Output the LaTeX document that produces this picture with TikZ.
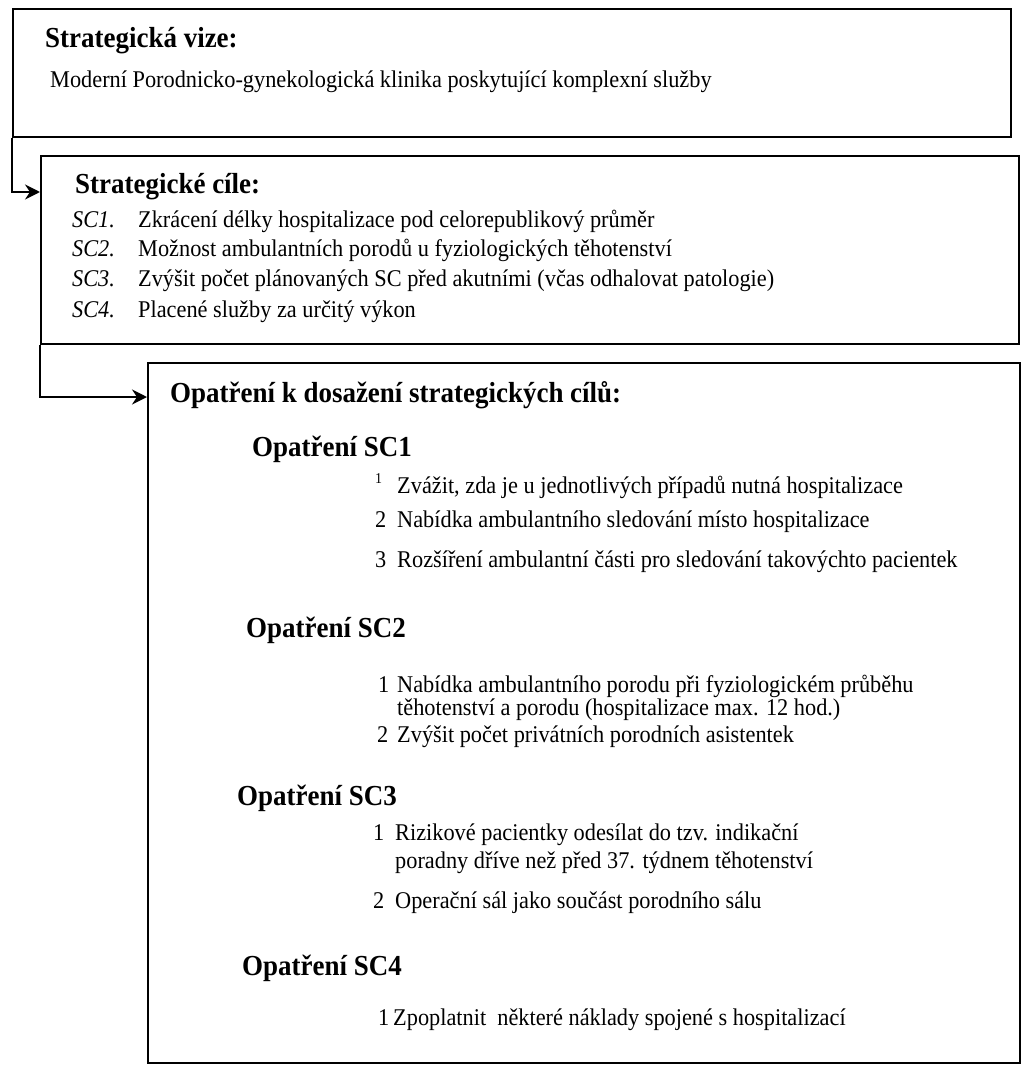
\documentclass[tikz,border=0pt]{standalone}
\usepackage{fontspec}
\setmainfont{Liberation Serif}[FakeStretch=0.93]
\usetikzlibrary{arrows.meta,calc}
\tikzset{
  box/.style={draw=black, line width=2.2pt, anchor=north west, inner sep=0pt},
  hd/.style={anchor=base west, inner sep=0pt, font=\fontsize{29}{32}\selectfont\bfseries},
  tx/.style={anchor=base west, inner sep=0pt, font=\fontsize{24}{24}\selectfont},
  lbl/.style={anchor=base west, inner sep=0pt, font=\fontsize{24}{24}\selectfont\itshape},
  supnum/.style={anchor=base west, inner sep=0pt, font=\fontsize{15}{15}\selectfont},
  conn/.style={line width=2.2pt, -{Stealth[length=15pt,width=15pt,inset=5pt]}},
}
\begin{document}
\begin{tikzpicture}[x=1pt,y=-1pt]
\fill[white] (0,0) rectangle (1021,1065);
\useasboundingbox (0,0) rectangle (1021,1065);

% boxes
\node[box, minimum width=998pt, minimum height=128pt] (b1) at (12,8) {};
\node[box, minimum width=978pt, minimum height=188pt] (b2) at (40,155) {};
\node[box, minimum width=872pt, minimum height=700pt] (b3) at (147,362) {};

% connectors
\draw[conn] (b1.south west) |- ($(b2.north west)+(0,37)$);
\draw[conn] (b2.south west) |- ($(b3.north west)+(0,35)$);

% box 1
\node[hd] (v0) at (45,48) {Strategická vize:};
\node[tx] (v1) at (50,87) {Moderní Porodnicko-gynekologická klinika poskytující komplexní služby};

% box 2
\node[hd] (c0) at (75,193) {Strategické cíle:};
\node[lbl] (c1l) at (72,227) {SC1.};
\node[tx]  (c1)  at (138,227) {Zkrácení délky hospitalizace pod celorepublikový průměr};
\node[lbl] (c2l) at (72,256) {SC2.};
\node[tx]  (c2)  at (138,256) {Možnost ambulantních porodů u fyziologických těhotenství};
\node[lbl] (c3l) at (72,286) {SC3.};
\node[tx]  (c3)  at (138,286) {Zvýšit počet plánovaných SC před akutními (včas odhalovat patologie)};
\node[lbl] (c4l) at (72,317) {SC4.};
\node[tx]  (c4)  at (138,317) {Placené služby za určitý výkon};

% box 3
\node[hd] (o0) at (170,402) {Opatření k dosažení strategických cílů:};

\node[hd] (o1) at (252,456) {Opatření SC1};
\node[supnum] (o1n1) at (375,483) {1};
\node[tx] (o1t1) at (397,493) {Zvážit, zda je u jednotlivých případů nutná hospitalizace};
\node[tx] (o1n2) at (375,527) {2};
\node[tx] (o1t2) at (397,527) {Nabídka ambulantního sledování místo hospitalizace};
\node[tx] (o1n3) at (375,567) {3};
\node[tx] (o1t3) at (397,567) {Rozšíření ambulantní části pro sledování takovýchto pacientek};

\node[hd] (o2) at (246,637) {Opatření SC2};
\node[tx] (o2n1) at (378,692) {1};
\node[tx] (o2t1) at (397,692) {Nabídka ambulantního porodu při fyziologickém průběhu};
\node[tx] (o2t1b) at (397,715) {těhotenství a porodu (hospitalizace max. 12 hod.)};
\node[tx] (o2n2) at (377,742) {2};
\node[tx] (o2t2) at (397,742) {Zvýšit počet privátních porodních asistentek};

\node[hd] (o3) at (237,805) {Opatření SC3};
\node[tx] (o3n1) at (373,840) {1};
\node[tx] (o3t1) at (395,840) {Rizikové pacientky odesílat do tzv. indikační};
\node[tx] (o3t1b) at (395,868) {poradny dříve než před 37. týdnem těhotenství};
\node[tx] (o3n2) at (373,908) {2};
\node[tx] (o3t2) at (395,908) {Operační sál jako součást porodního sálu};

\node[hd] (o4) at (242,975) {Opatření SC4};
\node[tx] (o4n1) at (378,1025) {1};
\node[tx] (o4t1) at (393,1025) {Zpoplatnit\ \ některé náklady spojené s hospitalizací};
\end{tikzpicture}
\end{document}
